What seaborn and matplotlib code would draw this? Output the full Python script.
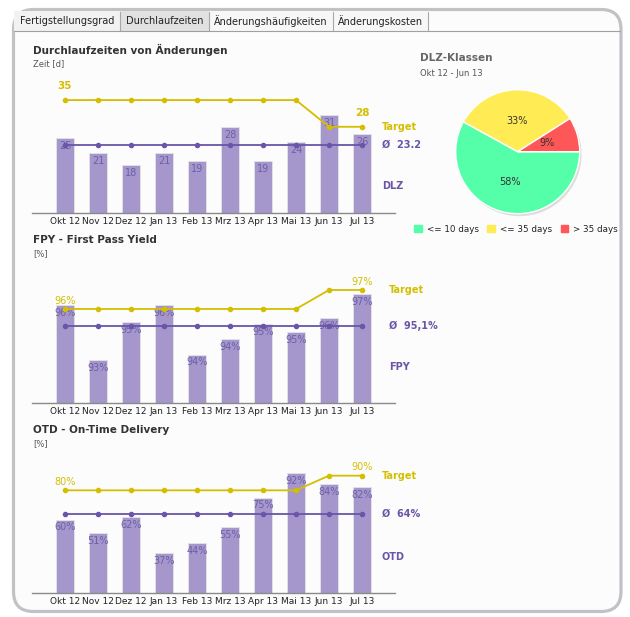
import numpy as np
import matplotlib
matplotlib.use("Agg")
import matplotlib.pyplot as plt
import seaborn as sns
from matplotlib.patches import FancyBboxPatch, Rectangle, Patch, Circle

# --- data -------------------------------------------------------------
months = ["Okt 12", "Nov 12", "Dez 12", "Jan 13", "Feb 13",
          "Mrz 13", "Apr 13", "Mai 13", "Jun 13", "Jul 13"]

dlz_values = [25, 21, 18, 21, 19, 28, 19, 24, 31, 26]
dlz_target = [35, 35, 35, 35, 35, 35, 35, 35, 28, 28]

fpy_values = [96.2, 93.3, 95.3, 96.2, 93.6, 94.4, 95.2, 94.8, 95.5, 96.8]
fpy_target = [96, 96, 96, 96, 96, 96, 96, 96, 97, 97]

otd_values = [60, 51, 62, 37, 44, 55, 75, 92, 84, 82]
otd_target = [80, 80, 80, 80, 80, 80, 80, 80, 90, 90]

pie_labels = ["<= 10 days", "<= 35 days", "> 35 days"]
pie_shares = [58, 33, 9]

tabs = ["Fertigstellungsgrad", "Durchlaufzeiten", "Änderungshäufigkeiten", "Änderungskosten"]

# --- colours ----------------------------------------------------------
BAR = "#a597cb"
PURPLE = "#6a55a8"
LABEL = "#6e5eaa"
YELLOW = "#d4be00"
PIE_COLORS = ["#55ffaa", "#ffec55", "#ff5757"]

W, H = 630, 617
sns.set_style("white")
plt.rcParams["font.family"] = ["DejaVu Sans"]
fig = plt.figure(figsize=(W / 100, H / 100), dpi=100)
fig.patch.set_facecolor("white")


def px_axes(left, top, right, bottom):
    return fig.add_axes([left / W, 1 - bottom / H, (right - left) / W, (bottom - top) / H])


# background overlay in pixel coordinates
bg = fig.add_axes([0, 0, 1, 1], zorder=0)
bg.set_xlim(0, W)
bg.set_ylim(H, 0)
bg.axis("off")
bg.add_patch(FancyBboxPatch((13.5, 9.5), 607.5, 602, boxstyle="round,pad=0,rounding_size=20",
                            lw=2.3, ec="#c2c2c6", fc="#fcfcfc"))

tab_edges = [14, 120, 209, 333, 428]
tab_bg = ["#f2f2f2", "#e1e1e1", "#f7f7f7", "#f7f7f7"]
for i, t in enumerate(tabs):
    x0, x1 = tab_edges[i], tab_edges[i + 1]
    bg.add_patch(Rectangle((x0, 11), x1 - x0, 19.5, fc=tab_bg[i], ec="none"))
    bg.plot([x1 - 0.5, x1 - 0.5], [12, 30.5], color="#a8a8a8", lw=0.8)
    bg.text((x0 + x1) / 2, 21, t, ha="center", va="center", fontsize=7, color="#222222")
bg.plot([14, 620], [30.5, 30.5], color="#a0a0a0", lw=0.8)

# --- bar charts -------------------------------------------------------
charts = [
    dict(values=dlz_values, target=dlz_target, title="Durchlaufzeiten von Änderungen",
         unit="Zeit [d]", ty=50, top=81, base=213, ylim=(5.4, 40), name="DLZ",
         fmt=lambda v: f"{v:.0f}", avg=lambda v: f"Ø  {v:.1f}", tbold=True, toff=10,
         lx=0.964, namey=0.205),
    dict(values=fpy_values, target=fpy_target, title="FPY - First Pass Yield",
         unit="[%]", ty=240, top=271, base=403, ylim=(91.05, 98), name="FPY",
         fmt=lambda v: f"{v:.0f}%", avg=lambda v: f"Ø  {v:.1f}%".replace(".", ","),
         tbold=False, toff=6, lx=0.983, namey=0.27),
    dict(values=otd_values, target=otd_target, title="OTD - On-Time Delivery",
         unit="[%]", ty=430, top=461, base=593, ylim=(10, 100), name="OTD",
         fmt=lambda v: f"{v:.0f}%", avg=lambda v: f"Ø  {v:.0f}%",
         tbold=False, toff=6, lx=0.964, namey=0.27),
]

for c in charts:
    bg.text(33, c["ty"], c["title"], fontsize=7.5, fontweight="bold", color="#333333", va="center")
    bg.text(33, c["ty"] + 14, c["unit"], fontsize=6, color="#555555", va="center")

    ax = px_axes(32, c["top"], 395, c["base"])
    ax.set_facecolor("none")
    vals = c["values"]
    mean = float(np.mean(vals))

    sns.barplot(x=months, y=vals, color=BAR, width=0.56, saturation=1,
                edgecolor="#e4e4e4", linewidth=0.6, ax=ax)
    sns.pointplot(x=months, y=[mean] * len(months), color=PURPLE, markers="o",
                  markersize=3, linewidth=1.3, ax=ax)
    sns.pointplot(x=months, y=c["target"], color=YELLOW, markers="o",
                  markersize=3, linewidth=1.3, ax=ax)

    for i, v in enumerate(vals):
        ax.annotate(c["fmt"](v), (i, v), xytext=(0, -2), textcoords="offset points",
                    ha="center", va="top", fontsize=7, color=LABEL, zorder=1.5)
    for i in (0, len(months) - 1):
        ax.annotate(c["fmt"](c["target"][i]), (i, c["target"][i]), xytext=(0, c["toff"]),
                    textcoords="offset points", ha="center", va="center",
                    fontsize=7.5 if c["tbold"] else 7,
                    color=YELLOW, fontweight="bold" if c["tbold"] else "normal")

    tr = ax.get_yaxis_transform()
    ax.text(c["lx"], c["target"][-1], "Target", transform=tr, fontsize=7, fontweight="bold",
            color=YELLOW, va="center", ha="left")
    ax.text(c["lx"], mean, c["avg"](mean), transform=tr, fontsize=7, fontweight="bold",
            color=PURPLE, va="center", ha="left")
    ax.text(c["lx"], c["namey"], c["name"], transform=ax.transAxes, fontsize=7,
            fontweight="bold", color=PURPLE, va="center", ha="left")

    ax.set_xlim(-1.0, 10.0)
    ax.set_ylim(*c["ylim"])
    ax.set_yticks([])
    ax.set_xlabel("")
    ax.set_ylabel("")
    ax.tick_params(axis="x", length=0, labelsize=6.5, pad=3, colors="#222222")
    for s in ["top", "right", "left"]:
        ax.spines[s].set_visible(False)
    ax.spines["bottom"].set_color("#8a8a8a")
    ax.spines["bottom"].set_linewidth(1)

# --- pie --------------------------------------------------------------
bg.text(420, 58, "DLZ-Klassen", fontsize=7.5, fontweight="bold", color="#666666", va="center")
bg.text(420, 73, "Okt 12 - Jun 13", fontsize=6, color="#555555", va="center")

pax = px_axes(517.7 - 68.2, 151.7 - 68.2, 517.7 + 68.2, 151.7 + 68.2)
pax.add_patch(Circle((0.03, -0.04), 1.0, color="#000000", alpha=0.12, lw=0))
pax.pie(pie_shares, colors=PIE_COLORS, startangle=0, counterclock=False,
        autopct="%d%%", pctdistance=0.5, radius=1.0,
        textprops=dict(fontsize=7, color="#333333"))
pax.set_xlim(-1.1, 1.1)
pax.set_ylim(-1.1, 1.1)
pax.set_aspect("equal")
pax.axis("off")

handles = [Patch(color=col, label=lab) for col, lab in zip(PIE_COLORS, pie_labels)]
fig.legend(handles=handles, loc="center", bbox_to_anchor=(516 / W, 1 - 229 / H), ncol=3,
           frameon=False, fontsize=6.3, handlelength=0.9, handleheight=0.9,
           handletextpad=0.5, columnspacing=1.0, labelcolor="#222222")

fig.savefig("out.png", dpi=100, facecolor="white")
